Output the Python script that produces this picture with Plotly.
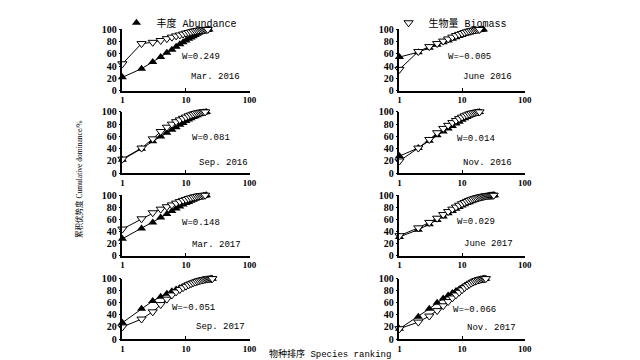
import plotly.graph_objects as go

panel_titles = ["Mar. 2016", "June 2016", "Sep. 2016", "Nov. 2016",
                "Mar. 2017", "June 2017", "Sep. 2017", "Nov. 2017"]
w_labels = ["W=0.249", "W=\u22120.005", "W=0.081", "W=0.014",
            "W=0.148", "W=0.029", "W=\u22120.051", "W=\u22120.066"]

abund_mar16 = [22, 36, 47, 55, 62, 67, 72, 76, 79, 82, 85, 87, 89, 91, 93, 94.5, 96, 97, 98, 98.7, 99.3, 99.7, 100]
biom_mar16 = [44, 77, 79, 82, 85, 87.5, 89.5, 91, 92.5, 94, 95, 96, 97, 97.7, 98.3, 98.8, 99.2, 99.5, 99.7, 99.85, 99.95, 100]
abund_jun16 = [55, 63, 70, 75, 79, 82, 85, 87.5, 89.5, 91, 92.5, 94, 95, 96, 97, 97.7, 98.3, 98.8, 99.2, 99.5, 99.8, 100]
biom_jun16 = [35, 64, 72, 77, 81, 84.5, 87.5, 90, 92, 93.5, 95, 96.2, 97.2, 98, 98.6, 99.1, 99.5, 99.8, 100]
abund_sep16 = [22, 40, 52, 60, 66, 71, 75, 79, 82, 85, 87.5, 89.5, 91.5, 93, 94.5, 96, 97, 98, 98.8, 99.5, 100]
biom_sep16 = [23, 41, 56, 68, 75, 80, 84, 87, 89.5, 91.5, 93.5, 95, 96.3, 97.3, 98.2, 98.8, 99.3, 99.7, 99.9, 100]
abund_nov16 = [28, 41, 53, 62, 68, 73, 77, 81, 84, 87, 89.5, 91.5, 93.5, 95, 96.5, 97.5, 98.5, 99.3, 100]
biom_nov16 = [20, 41, 55, 66, 73, 78, 82.5, 86, 89, 91.5, 93.5, 95, 96.5, 97.5, 98.3, 99, 99.5, 99.8, 100]
abund_mar17 = [28, 45, 55, 63, 69, 74, 78, 81.5, 84.5, 87, 89, 91, 92.5, 94, 95.5, 96.5, 97.5, 98.3, 99, 99.5, 100]
biom_mar17 = [44, 61, 71, 77, 81, 84, 87, 89.5, 91.5, 93, 94.5, 95.7, 96.7, 97.5, 98.2, 98.8, 99.2, 99.5, 99.8, 100]
abund_jun17 = [31, 43, 52, 59, 65, 70, 74, 77.5, 80.5, 83, 85, 87, 88.5, 90, 91.3, 92.5, 93.5, 94.4, 95.2, 96, 96.6,
               97.2, 97.7, 98.1, 98.5, 98.8, 99.1, 99.3, 99.5, 99.7, 99.85, 99.95, 100]
biom_jun17 = [33, 46, 55, 62, 68, 73, 77, 80.5, 83.5, 86, 88, 89.8, 91.3, 92.6, 93.7, 94.7, 95.5, 96.2, 96.8, 97.3,
              97.8, 98.2, 98.5, 98.8, 99.1, 99.3, 99.5, 99.65, 99.8, 99.9, 99.95, 100]
abund_sep17 = [27, 50, 63, 70, 75, 79, 82, 84.5, 86.5, 88.3, 89.8, 91.2, 92.4, 93.5, 94.5, 95.4, 96.2, 96.9, 97.5,
               98, 98.5, 98.9, 99.3, 99.6, 99.8, 100]
biom_sep17 = [20, 33, 45, 57, 66, 73, 78, 82, 85, 87.5, 89.7, 91.5, 93, 94.3, 95.4, 96.3, 97.1, 97.8, 98.3, 98.8,
              99.2, 99.5, 99.7, 99.85, 99.95, 100]
abund_nov17 = [17, 37, 50, 60, 67, 72, 76, 79.5, 82.5, 85, 87.5, 89.5, 91.3, 93, 94.4, 95.6, 96.6, 97.5, 98.2, 98.8,
               99.3, 99.6, 99.85, 100]
biom_nov17 = [17, 28, 38, 47, 55, 62, 68, 73, 77.5, 81.5, 85, 88, 90.5, 92.5, 94.2, 95.6, 96.7, 97.6, 98.3, 98.9,
              99.3, 99.65, 99.9, 100]

abundance = [abund_mar16, abund_jun16, abund_sep16, abund_nov16, abund_mar17, abund_jun17, abund_sep17, abund_nov17]
biomass = [biom_mar16, biom_jun16, biom_sep16, biom_nov16, biom_mar17, biom_jun17, biom_sep17, biom_nov17]

x_ticks = [1, 10, 100]
y_ticks = [0, 20, 40, 60, 80, 100]

# label positions (log10 x, y) per panel
w_pos = [(0.9, 55), (0.75, 55), (1.07, 58), (0.89, 55), (0.9, 54), (0.89, 55), (0.75, 52), (0.83, 48)]
d_pos = [(1.05, 22), (0.98, 22), (1.18, 17), (0.98, 16), (1.07, 17), (1.0, 19), (1.13, 20), (1.05, 19)]

W, H = 640, 360
col_px = [(114, 243), (395, 522)]
row_px = [(13, 77), (99, 163), (186, 249), (273, 336)]

mono = "Liberation Mono, Noto Sans CJK SC"
serif = "Liberation Serif, Noto Sans CJK SC"

abund_marker = dict(symbol="triangle-up", size=8, color="black")
biom_marker = dict(symbol="triangle-down", size=8, color="white", line=dict(color="black", width=1))

fig = go.Figure()
layout = {}
annotations = []
for i in range(8):
    r, c = divmod(i, 2)
    idx = "" if i == 0 else str(i + 1)
    xa, ya = "x" + idx, "y" + idx
    x0, x1 = col_px[c]
    y0, y1 = row_px[r]
    layout["xaxis" + idx] = dict(
        type="log", range=[0, 2], domain=[x0 / W, x1 / W], anchor=ya,
        tickvals=x_ticks, ticktext=[str(t) for t in x_ticks],
        showline=True, linecolor="black", linewidth=1.5, showgrid=False, zeroline=False,
        ticks="inside", ticklen=3, tickcolor="black",
        tickfont=dict(family=serif, size=9, color="black", weight="bold"))
    layout["yaxis" + idx] = dict(
        range=[0, 100], domain=[1 - y1 / H, 1 - y0 / H], anchor=xa,
        tickvals=y_ticks, showline=True, linecolor="black", linewidth=1.5,
        showgrid=False, zeroline=False, ticks="outside", ticklen=2, tickcolor="black",
        tickfont=dict(family=serif, size=10, color="black", weight="bold"))
    a = abundance[i]
    b = biomass[i]
    fig.add_trace(go.Scatter(
        x=list(range(1, len(a) + 1)), y=a, xaxis=xa, yaxis=ya, mode="lines+markers",
        line=dict(color="black", width=1), cliponaxis=False,
        marker=abund_marker, showlegend=False))
    fig.add_trace(go.Scatter(
        x=list(range(1, len(b) + 1)), y=b, xaxis=xa, yaxis=ya, mode="lines+markers",
        line=dict(color="black", width=1), cliponaxis=False,
        marker=biom_marker, showlegend=False))
    annotations.append(dict(xref=xa, yref=ya, x=w_pos[i][0], y=w_pos[i][1], text=w_labels[i],
                            showarrow=False, xanchor="left", yanchor="middle",
                            font=dict(family=mono, size=9, color="black")))
    annotations.append(dict(xref=xa, yref=ya, x=d_pos[i][0], y=d_pos[i][1], text=panel_titles[i],
                            showarrow=False, xanchor="left", yanchor="middle",
                            font=dict(family=mono, size=9, color="black")))

# legend-only entries (markers only, as in the reference)
fig.add_trace(go.Scatter(x=[None], y=[None], mode="markers", marker=abund_marker,
                         name="丰度 Abundance", legend="legend"))
fig.add_trace(go.Scatter(x=[None], y=[None], mode="markers", marker=biom_marker,
                         name="生物量 Biomass", legend="legend2"))

annotations.append(dict(xref="paper", yref="paper", x=325 / W, y=0, text="物种排序 Species ranking",
                        showarrow=False, xanchor="center", yanchor="bottom",
                        font=dict(family=mono, size=9, color="black")))
annotations.append(dict(xref="paper", yref="paper", x=70 / W, y=1 - 170 / H, text="累积优势度 Cumulative dominance/%",
                        showarrow=False, xanchor="center", yanchor="middle", textangle=-90,
                        font=dict(family=serif, size=7.5, color="black")))

fig.update_layout(
    width=W, height=H, margin=dict(l=0, r=0, t=0, b=0),
    paper_bgcolor="white", plot_bgcolor="white",
    annotations=annotations,
    legend=dict(x=108 / W, y=1 - 6 / H, xanchor="left", yanchor="middle", orientation="h",
                font=dict(family=mono, size=10, color="black"), itemwidth=30, bgcolor="rgba(0,0,0,0)"),
    legend2=dict(x=384 / W, y=1 - 6 / H, xanchor="left", yanchor="middle", orientation="h",
                 font=dict(family=mono, size=10, color="black"), itemwidth=30, bgcolor="rgba(0,0,0,0)"),
    **layout)

fig.write_html("out.html")
